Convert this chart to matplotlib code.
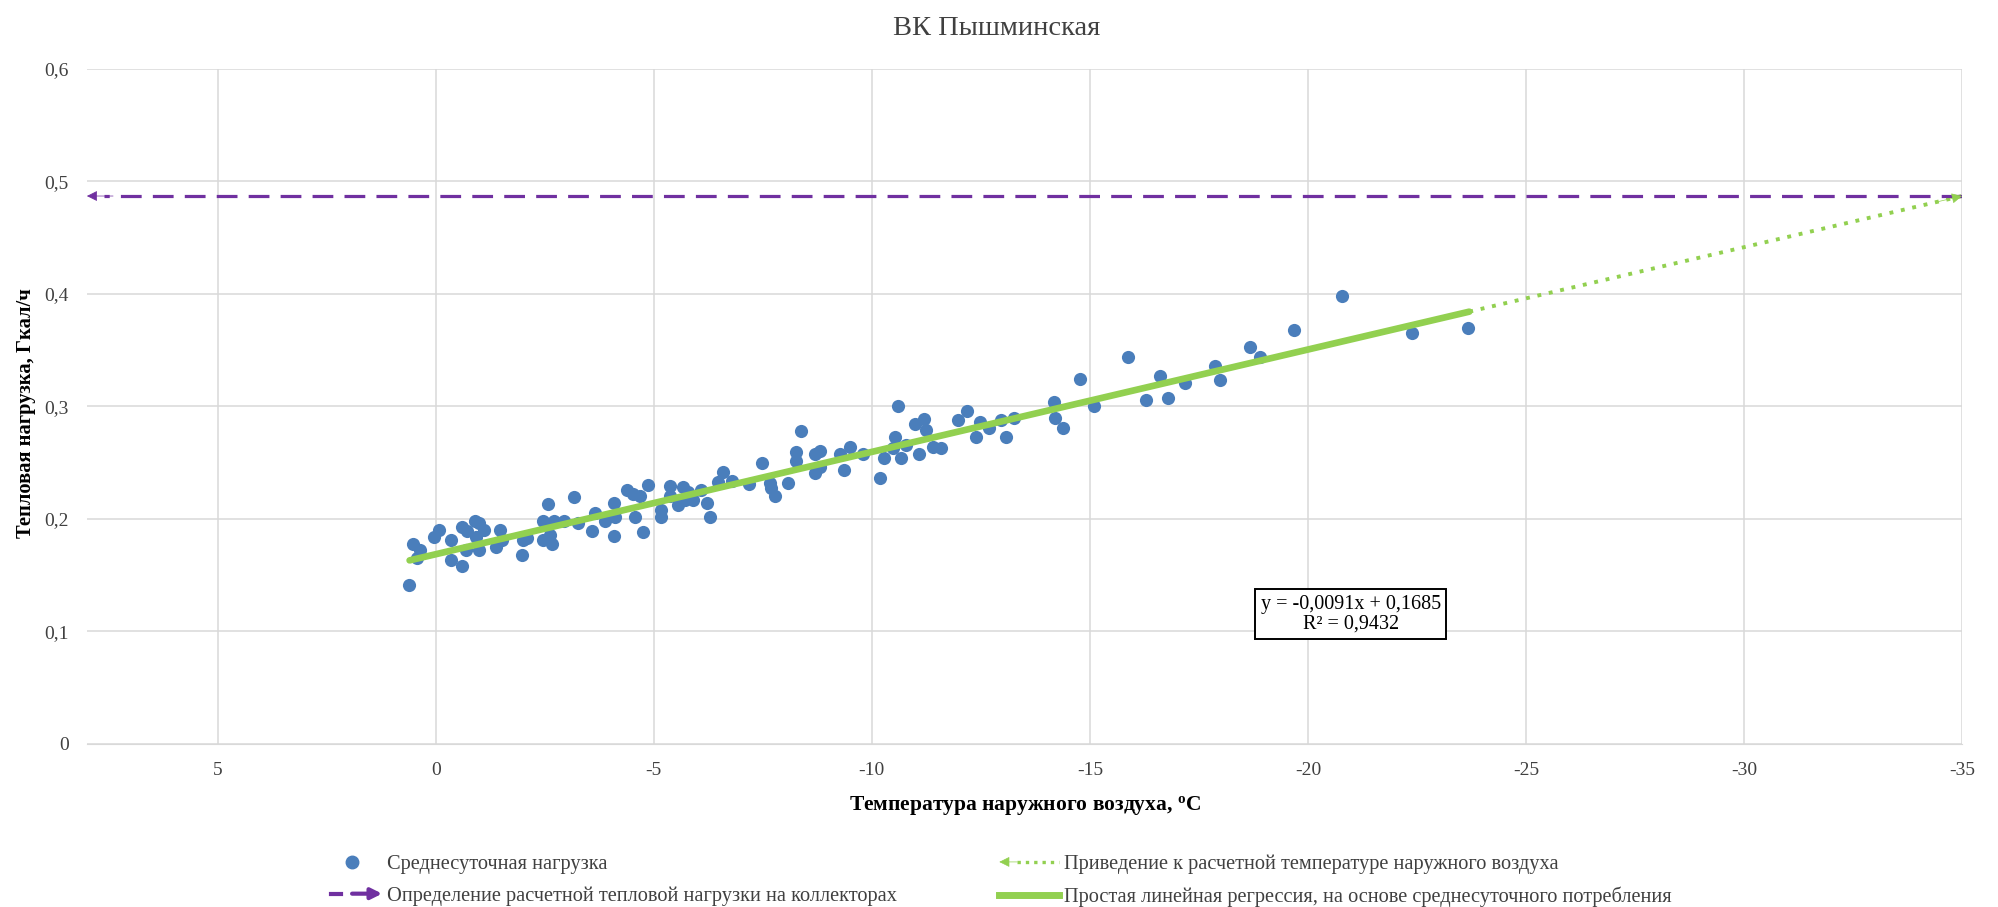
import matplotlib
matplotlib.use("Agg")
import matplotlib.pyplot as plt
from matplotlib.lines import Line2D
from matplotlib.patches import FancyArrowPatch

plt.rcParams['font.family'] = ['Liberation Serif', 'DejaVu Serif']

# daily averages: outdoor temperature (C) and heat load (Gcal/h)
temps = [0.62, 0.53, 0.37, 0.43, 0.05, -0.07, -0.36, -0.36, -0.59, -0.59, -0.72, -0.89,
         -1.00, -0.92, -0.70, -1.00, -1.10, -1.38, -1.48, -1.52, -1.98, -2.01, -2.09,
         -2.57, -2.47, -2.47, -2.66, -2.62, -2.70, -2.93, -3.18, -3.27, -3.58, -3.65,
         -3.88, -4.08, -4.08, -4.11, -4.38, -4.53, -4.57, -4.68, -4.76, -4.87,
         -5.16, -5.16, -5.37, -5.37, -5.56, -5.67, -5.71, -5.79, -5.90, -6.08, -6.21,
         -6.29, -6.48, -6.59, -6.80, -7.18, -7.47, -7.66, -7.69, -7.77, -8.08, -8.27,
         -8.27, -8.38, -8.69, -8.69, -8.80, -8.80, -9.26, -9.37, -9.49, -9.79, -10.18,
         -10.27, -10.52, -10.60, -10.48, -10.67, -10.79, -10.99, -11.09, -11.19, -11.24,
         -11.40, -11.59, -11.98, -12.18, -12.39, -12.49, -12.69, -12.96, -13.07, -13.27,
         -14.18, -14.19, -14.39, -14.78, -15.10, -15.87, -16.28, -16.61, -16.79, -17.19,
         -17.88, -17.98, -18.68, -18.89, -19.69, -20.78, -22.38, -23.68]
loads = [0.141, 0.178, 0.172, 0.165, 0.184, 0.190, 0.181, 0.163, 0.158, 0.193, 0.189, 0.198,
         0.196, 0.184, 0.172, 0.172, 0.190, 0.175, 0.190, 0.181, 0.168, 0.181, 0.183,
         0.213, 0.198, 0.181, 0.178, 0.186, 0.198, 0.198, 0.219, 0.196, 0.189, 0.205,
         0.198, 0.185, 0.214, 0.202, 0.226, 0.222, 0.202, 0.220, 0.188, 0.230,
         0.208, 0.202, 0.229, 0.220, 0.212, 0.228, 0.217, 0.224, 0.217, 0.226, 0.214,
         0.202, 0.233, 0.242, 0.234, 0.231, 0.250, 0.232, 0.227, 0.220, 0.232, 0.259,
         0.251, 0.278, 0.258, 0.241, 0.260, 0.246, 0.258, 0.243, 0.264, 0.258, 0.236,
         0.254, 0.273, 0.300, 0.263, 0.254, 0.266, 0.284, 0.258, 0.289, 0.279,
         0.264, 0.263, 0.288, 0.296, 0.273, 0.286, 0.281, 0.288, 0.273, 0.290,
         0.304, 0.290, 0.281, 0.324, 0.300, 0.344, 0.306, 0.327, 0.307, 0.321,
         0.336, 0.323, 0.353, 0.344, 0.368, 0.398, 0.365, 0.370]

slope = -0.0091
intercept = 0.1685
r2 = 0.9432
fit_start, fit_end = 0.6, -23.7
design_temp = -35
x_left = 8

xticks = [5, 0, -5, -10, -15, -20, -25, -30, -35]
yticks = [0, 0.1, 0.2, 0.3, 0.4, 0.5, 0.6]

blue = '#4a7ebb'
green = '#92d050'
purple = '#7030a0'
textc = '#404040'


def fmt(v):
    return ('%g' % v).replace('.', ',')


class ArrowLine:
    """legend entry: styled line with an arrowhead on one side"""
    def __init__(self, color, ls, lw, head):
        self.color, self.ls, self.lw, self.head = color, ls, lw, head

    def legend_artist(self, legend, orig_handle, fontsize, handlebox):
        x0, y0 = handlebox.xdescent, handlebox.ydescent
        w, h = handlebox.width, handlebox.height
        tr = handlebox.get_transform()
        yc = y0 + h / 2
        if self.head == 'right':
            line = Line2D([x0 + w * 0.15, x0 + w * 0.32], [yc, yc], color=self.color,
                          lw=self.lw, transform=tr)
            arr = FancyArrowPatch((x0 + w * 0.5, yc), (x0 + w, yc), arrowstyle='-|>',
                                  mutation_scale=16, color=self.color, lw=self.lw,
                                  shrinkA=0, shrinkB=0, transform=tr)
        else:
            line = Line2D([x0 + w * 0.3, x0 + w], [yc, yc], color=self.color, ls=self.ls,
                          lw=self.lw, transform=tr)
            arr = FancyArrowPatch((x0 + w * 0.3, yc), (x0, yc), arrowstyle='-|>',
                                  mutation_scale=16, color=self.color, lw=0.5,
                                  shrinkA=0, shrinkB=0, transform=tr)
        handlebox.add_artist(line)
        handlebox.add_artist(arr)
        return line


fig = plt.figure(figsize=(19.98, 9.07), dpi=100)
ax = fig.add_axes([0.0435, 0.180, 0.9385, 0.744])

ax.scatter(temps, loads, s=90, color=blue, zorder=3, linewidths=0)

fit_x = [fit_start, fit_end]
fit_y = [slope * t + intercept for t in fit_x]
ax.plot(fit_x, fit_y, color=green, lw=4.8, solid_capstyle='round', zorder=4)

# extrapolation of the regression to the design temperature
design_load = slope * design_temp + intercept
ax.plot([fit_end, design_temp], [fit_y[1], design_load], color=green, lw=2.8,
        ls=(0, (1, 2)), zorder=4)
ax.annotate('', xy=(design_temp, design_load),
            xytext=(design_temp + 0.6, design_load - 0.6 * abs(slope)),
            arrowprops=dict(arrowstyle='-|>', color=green, lw=0.5, mutation_scale=16,
                            shrinkA=0, shrinkB=0), zorder=5)

ax.plot([design_temp, x_left - 0.4], [design_load, design_load], color=purple, lw=2.3,
        dashes=(6.5, 3.5), zorder=4)
ax.annotate('', xy=(x_left, design_load), xytext=(x_left - 0.6, design_load),
            arrowprops=dict(arrowstyle='-|>', color=purple, lw=0.5, mutation_scale=16,
                            shrinkA=0, shrinkB=0), zorder=5)

ax.set_xlim(x_left, -35)
ax.set_ylim(0, 0.6)
ax.set_xticks(xticks)
ax.set_xticklabels([fmt(v) for v in xticks])
ax.set_yticks(yticks)
ax.set_yticklabels([fmt(v) for v in yticks])
ax.grid(True, color='#d9d9d9', lw=1.1)
ax.set_axisbelow(True)
for side in ['top', 'right', 'left']:
    ax.spines[side].set_visible(False)
ax.spines['bottom'].set_color('#d9d9d9')
ax.tick_params(length=0, labelsize=14, colors=textc)
ax.tick_params(axis='x', pad=13)
ax.tick_params(axis='y', pad=13)

ax.set_xlabel('Температура наружного воздуха, $\\mathregular{^o}$С', fontsize=15.5,
              fontweight='bold', labelpad=11)
ax.set_ylabel('Тепловая нагрузка, Гкал/ч', fontsize=14.8, fontweight='bold')
ax.yaxis.set_label_coords(-0.027, 0.49)
fig.text(0.499, 0.969, 'ВК Пышминская', ha='center', va='center', fontsize=20.5, color=textc)

ax.text(-20.98, 0.1151, 'y = -0,0091x + 0,1685\nR² = %s' % fmt(r2), ha='center',
        va='center', fontsize=14.5, linespacing=1.05,
        bbox=dict(boxstyle='square,pad=0.28', fc='white', ec='black', lw=1.4))

h_pts = Line2D([], [], ls='', marker='o', markersize=9, color=blue)
h_purple = Line2D([], [], color=purple)
h_dot = Line2D([], [], color=green)
h_fit = Line2D([], [], color=green, lw=5)
leg = fig.legend([h_pts, h_purple, h_dot, h_fit],
                 ['Среднесуточная нагрузка',
                  'Определение расчетной тепловой нагрузки на коллекторах',
                  'Приведение к расчетной температуре наружного воздуха',
                  'Простая линейная регрессия, на основе среднесуточного потребления'],
                 handler_map={h_purple: ArrowLine(purple, '-', 3, 'right'),
                              h_dot: ArrowLine(green, (0, (1, 1.5)), 2.4, 'left')},
                 ncol=2, loc='center left', bbox_to_anchor=(0.152, 0.029), frameon=False,
                 fontsize=14.7, handlelength=2.94, handletextpad=0.25, columnspacing=5.0,
                 labelspacing=0.6, borderpad=0.4)
for t in leg.get_texts():
    t.set_color(textc)

fig.savefig('out.png', dpi=100)
